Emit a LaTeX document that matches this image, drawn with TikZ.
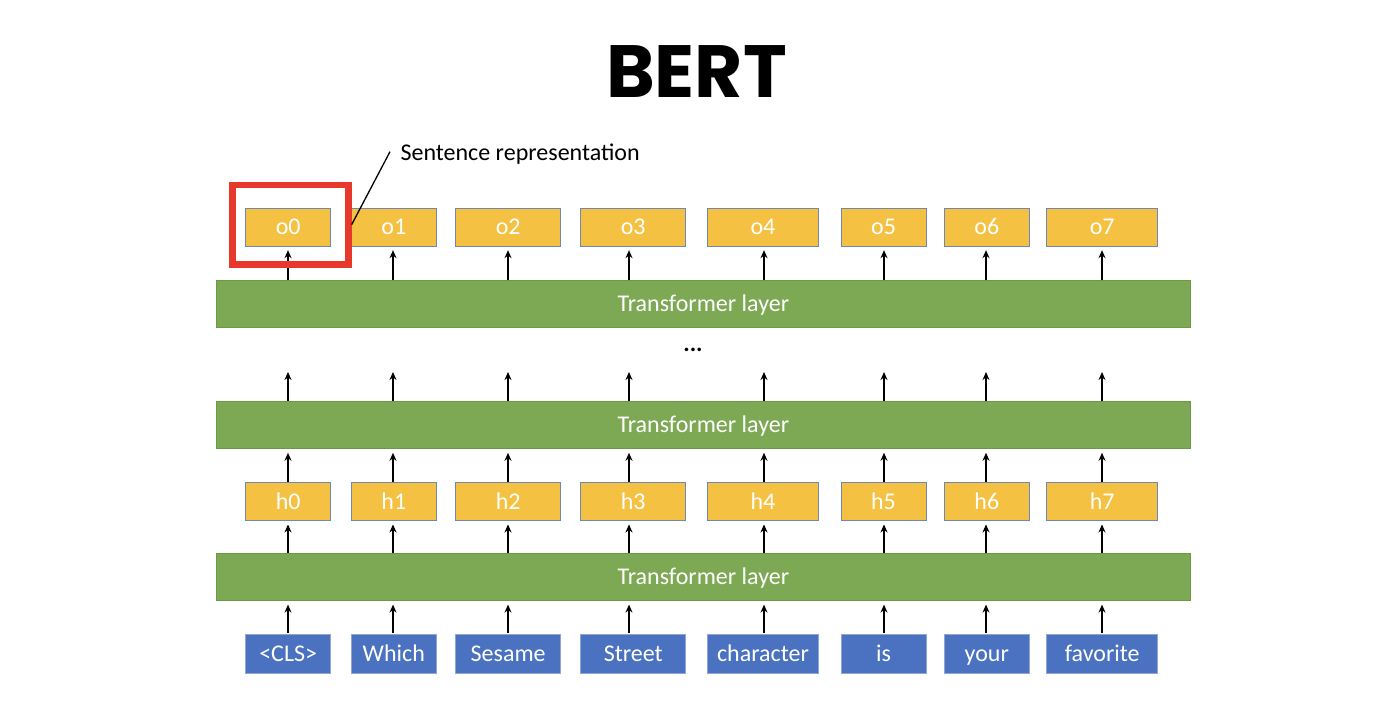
\documentclass[tikz,border=0pt]{standalone}
\usepackage{fontspec}
\setmainfont{Carlito}
\newfontfamily\titlefont{Poppins}
\usetikzlibrary{arrows.meta}
\definecolor{gold}{HTML}{F5C142}
\definecolor{goldedge}{HTML}{6F86B8}
\definecolor{leaf}{HTML}{7EA954}
\definecolor{leafedge}{HTML}{6A9A44}
\definecolor{tok}{HTML}{4A72C0}
\definecolor{tokedge}{HTML}{8EA6D6}
\definecolor{hl}{HTML}{E8382C}
\tikzset{
  boxtext/.style={font=\fontsize{24}{26}\selectfont, text height=19pt, text depth=4pt},
  vecbox/.style={boxtext, draw=goldedge, line width=0.9pt, fill=gold, text=white, minimum height=38pt, inner sep=0pt},
  tokbox/.style={boxtext, draw=tokedge, line width=0.9pt, fill=tok, text=white, minimum height=39pt, inner sep=0pt},
  layerbar/.style={boxtext, draw=leafedge, line width=0.9pt, fill=leaf, text=white, minimum width=974.7pt, minimum height=47pt, inner sep=0pt},
  uparrow/.style={-{Stealth[length=8pt,width=7pt]}, line width=1.5pt, shorten >=3.5pt},
}
\begin{document}
\begin{tikzpicture}[x=1pt,y=-1pt]
\useasboundingbox[fill=white] (0,0) rectangle (1378,720);
% title
\node[font=\titlefont\bfseries\fontsize{74}{80}\selectfont, anchor=base] (title) at (696.5,97) {BERT};
% bars
\node[layerbar] (L3) at (703.35,304.2) {Transformer layer};
\node[layerbar] (L2) at (703.35,425.35) {Transformer layer};
\node[layerbar] (L1) at (703.35,577.15) {Transformer layer};
\node[font=\bfseries\fontsize{24}{26}\selectfont, anchor=base] (dots) at (693,351) {...};
% boxes
\foreach \i/\cx/\w/\tk in {0/288.2/85/{<CLS>},1/393.8/85.7/Which,2/508.2/105/Sesame,3/633.2/105/Street,4/763/110.6/character,5/883.5/85/is,6/986.8/85/your,7/1102.2/111/favorite}{
  \node[vecbox, minimum width=\w pt] (o\i) at (\cx,227.2) {o\i};
  \node[vecbox, minimum width=\w pt] (h\i) at (\cx,501.5) {h\i};
  \node[tokbox, minimum width=\w pt] (t\i) at (\cx,653.8) {\tk};
}
% arrows
\foreach \i/\ax in {0/288,1/393,2/508,3/629,4/764,5/884,6/986,7/1102}{
  \coordinate (a\i) at (\ax,632.5);
  \draw[uparrow] (a\i) -- (a\i |- L1.south);
  \draw[uparrow] (L1.north -| a\i) -- (a\i |- h\i.south);
  \draw[uparrow] (h\i.north -| a\i) -- (a\i |- L2.south);
  \coordinate (f\i) at (\ax,372);
  \draw[uparrow, shorten >=0pt] (L2.north -| a\i) -- (f\i);
  \draw[uparrow] (L3.north -| a\i) -- (a\i |- o\i.south);
}
% highlight
\node[draw=hl, line width=6.7pt, minimum width=115.6pt, minimum height=79.3pt, inner sep=0pt] (sel) at (290.5,224.65) {};
\node[font=\fontsize{24}{26}\selectfont, anchor=base west] (lbl) at (397,160.7) {Sentence representation};
\coordinate (lead) at (390,151.7);
\draw[line width=1.3pt] (sel.east) -- (lead);
\end{tikzpicture}
\end{document}
